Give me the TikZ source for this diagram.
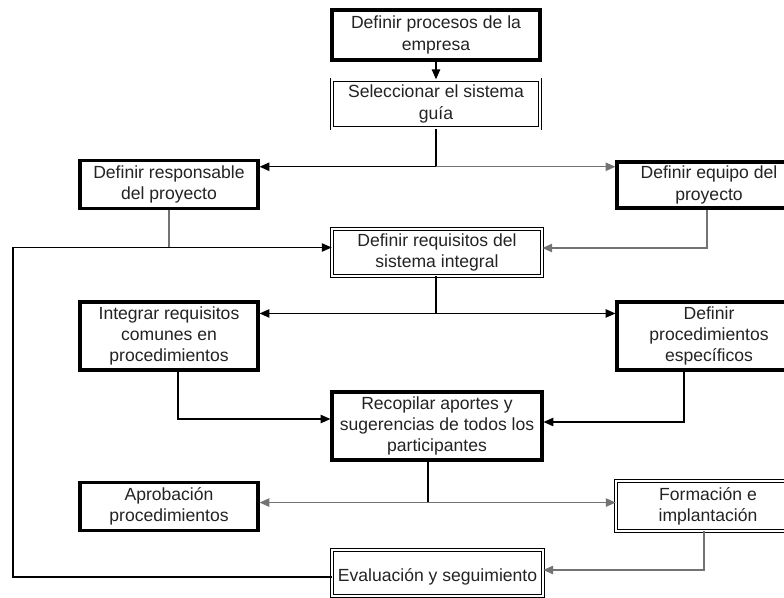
\documentclass[tikz,border=0pt]{standalone}
\usepackage{fontspec}
\setmainfont{Liberation Sans}
\usepackage{tikz}
\usetikzlibrary{arrows.meta, calc}
\definecolor{myink}{RGB}{35,35,35}
\definecolor{mygrey}{RGB}{115,115,115}
\newcommand{\boxfont}{\fontsize{12.5}{15}\selectfont}
\tikzset{
  heavybox/.style={rectangle, draw=black, fill=white, line width=2.2pt,
    align=center, font=\boxfont, text=myink, inner sep=1pt},
  dblbox/.style={rectangle, draw=black, double, double distance=1.8pt,
    line width=0.5pt, align=center, font=\boxfont, text=myink, inner sep=1pt},
  arrow/.style={-{Triangle[length=7pt,width=6pt]}, line width=0.9pt, color=black},
  greyarrow/.style={-{Triangle[length=7pt,width=6pt]}, line width=0.9pt, color=mygrey},
  line/.style={line width=0.9pt, color=black},
  greyline/.style={line width=0.9pt, color=mygrey}
}

\begin{document}
\begin{tikzpicture}[x=0.025cm, y=-0.025cm]
  \useasboundingbox (0,0) rectangle (784,598);
  \clip (0,0) rectangle (784,598);

  % centre column
  \node[heavybox, minimum width=5.2cm, minimum height=1.25cm] (procesos) at (436,35)
    {Definir procesos de la\\empresa};
  \node[dblbox, minimum width=5.2cm, minimum height=1.22cm] (seleccionar) at (436,104)
    {Seleccionar el sistema\\guía};
  \node[dblbox, minimum width=5.25cm, minimum height=1.18cm] (requisitos) at (437,252.5)
    {Definir requisitos del\\sistema integral};
  \node[heavybox, minimum width=5.25cm, minimum height=1.7cm] (recopilar) at (437,426)
    {Recopilar aportes y\\sugerencias de todos los\\participantes};
  \node[dblbox, minimum width=5.27cm, minimum height=1.15cm] (evaluacion) at (437.5,573)
    {\mbox{}\\Evaluación y seguimiento};

  % left column
  \node[heavybox, minimum width=4.45cm, minimum height=1.18cm] (responsable) at (169,184.5)
    {Definir responsable\\del proyecto};
  \node[heavybox, minimum width=4.45cm, minimum height=1.7cm] (integrar) at (169,336)
    {Integrar requisitos\\comunes en\\procedimientos};
  \node[heavybox, minimum width=4.45cm, minimum height=1.22cm] (aprobacion) at (169,506.5)
    {Aprobación\\procedimientos};

  % right column (cut by the page edge)
  \node[heavybox, minimum width=4.6cm, minimum height=1.15cm] (equipo) at (709,185)
    {Definir equipo del\\proyecto};
  \node[heavybox, minimum width=4.6cm, minimum height=1.7cm] (especificos) at (709,336)
    {Definir\\procedimientos\\específicos};
  \node[dblbox, minimum width=4.6cm, minimum height=1.25cm] (formacion) at (708,506)
    {Formación e\\implantación};

  % junctions
  \coordinate (split1) at ($(seleccionar.south)+(0,38)$);
  \coordinate (split2) at ($(requisitos.south)+(-1,37)$);
  \coordinate (split3) at ($(recopilar.south)+(-9,41)$);
  \coordinate (loopL) at (13,0);
  \coordinate (reqin) at ($(requisitos.west)+(0,-5)$);
  \coordinate (evout) at ($(evaluacion.west)+(0,4)$);

  \draw[arrow] (procesos.south) -- (seleccionar.north);
  \draw[line] (seleccionar.south) -- (split1);
  \draw[arrow] (split1) -- (split1 -| responsable.east);
  \draw[greyarrow] (split1) -- (split1 -| equipo.west);

  \draw[greyline] (responsable.south) -- (responsable.south |- reqin);
  \draw[arrow] (evout) -- (evout -| loopL) -- (loopL |- reqin) -- (reqin);
  \draw[greyarrow] ($(equipo.south)+(-2,0)$) |- ($(requisitos.east)+(0,-4.5)$);

  \draw[line] (requisitos.south -| split2) -- (split2);
  \draw[arrow] (split2) -- (split2 -| integrar.east);
  \draw[arrow] (split2) -- (split2 -| especificos.west);

  \draw[arrow] ($(integrar.south)+(9,0)$) |- ($(recopilar.west)+(0,-7)$);
  \draw[arrow] ($(especificos.south)+(-25,0)$) |- ($(recopilar.east)+(0,-4)$);

  \draw[line] (recopilar.south -| split3) -- (split3);
  \draw[greyarrow] (split3) -- (split3 -| aprobacion.east);
  \draw[greyarrow] (split3) -- (split3 -| formacion.west);
  \draw[greyarrow] ($(formacion.south)+(-4,0)$) |- ($(evaluacion.east)+(0,-3)$);
\end{tikzpicture}
\end{document}
